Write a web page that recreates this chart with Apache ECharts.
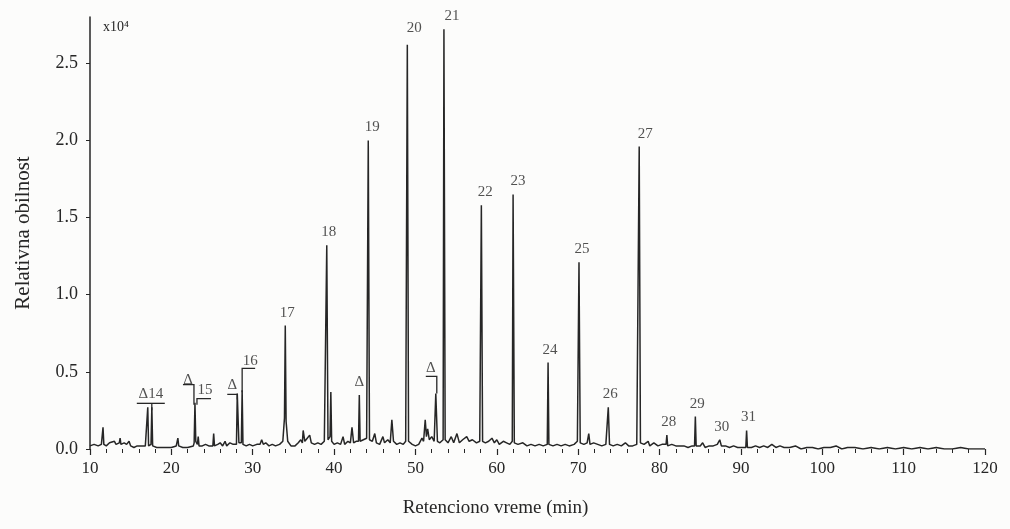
<!DOCTYPE html>
<html>
<head>
<meta charset="utf-8">
<script src="https://cdn.jsdelivr.net/npm/echarts/dist/echarts.min.js"></script>
<style>
html,body{margin:0;padding:0;background:#fcfcfb;}
#chart{width:1010px;height:529px;}
</style>
</head>
<body>
<div id="chart"></div>
<script>
// Chromatogram trace: retention time (min) and relative abundance (x10^4)
const traceTime = [
  10.0,10.5,11.0,11.4,11.5,11.6,11.7,12.0,12.4,12.6,13.0,13.2,13.6,13.7,13.8,14.2,14.5,14.8,15.0,15.4,
  15.8,16.3,16.8,17.0,17.1,17.2,17.5,17.6,17.7,18.2,19.0,20.0,20.6,20.8,20.9,21.4,22.0,22.7,22.8,22.9,
  23.0,23.2,23.3,23.4,23.8,24.2,24.6,25.1,25.2,25.3,25.7,26.0,26.3,26.6,26.8,27.2,27.6,28.0,28.1,28.3,
  28.6,28.7,28.8,29.2,29.6,30.0,30.5,30.9,31.1,31.3,31.6,32.0,32.4,32.8,33.3,33.7,33.9,34.0,34.1,34.3,
  34.7,35.2,35.6,35.9,36.1,36.2,36.4,36.7,37.0,37.2,37.6,38.0,38.4,38.8,39.0,39.1,39.25,39.5,39.6,39.7,
  40.0,40.4,40.8,41.1,41.3,41.7,42.0,42.2,42.4,42.7,43.0,43.1,43.2,43.6,44.0,44.2,44.35,44.7,45.0,45.2,
  45.6,46.0,46.2,46.6,46.9,47.1,47.3,47.7,48.1,48.5,48.8,49.0,49.15,49.6,50.0,50.4,50.8,51.0,51.2,51.35,
  51.5,51.7,52.0,52.3,52.5,52.7,53.0,53.4,53.5,53.65,54.0,54.4,54.7,55.1,55.4,55.8,56.3,56.6,57.0,57.5,
  57.9,58.1,58.25,58.6,59.0,59.4,59.7,60.0,60.3,60.8,61.2,61.6,61.9,62.0,62.15,62.6,63.2,63.7,64.2,64.7,
  65.2,65.7,66.2,66.3,66.4,66.9,67.4,67.9,68.4,68.9,69.5,69.9,70.1,70.25,70.7,71.1,71.3,71.45,71.9,72.4,
  72.9,73.4,73.7,73.85,74.3,74.8,75.3,75.8,76.2,76.7,77.2,77.5,77.65,78.1,78.6,78.8,79.3,79.8,80.3,80.8,
  80.9,81.0,81.5,82.0,82.5,83.0,83.5,84.0,84.3,84.4,84.5,85.0,85.3,85.6,86.1,86.6,87.1,87.4,87.6,88.1,
  88.6,89.1,89.6,90.2,90.6,90.7,90.8,91.3,91.8,92.3,92.8,93.3,93.8,94.3,94.8,95.3,96.0,96.7,97.4,98.1,
  98.8,99.5,100.2,101.0,101.7,102.4,103.1,104.0,105.0,106.0,107.0,108.0,109.0,110.0,111.0,112.0,113.0,114.0,115.0,116.0,
  117.0,118.0,119.0,120.0
];
const traceValue = [
  0.02,0.03,0.02,0.03,0.03,0.14,0.03,0.02,0.04,0.03,0.05,0.03,0.04,0.07,0.03,0.04,0.03,0.05,0.02,0.01,
  0.02,0.02,0.02,0.03,0.27,0.02,0.03,0.27,0.02,0.01,0.01,0.01,0.02,0.07,0.02,0.01,0.01,0.02,0.04,0.30,
  0.05,0.03,0.08,0.02,0.02,0.03,0.02,0.02,0.10,0.02,0.03,0.04,0.02,0.05,0.02,0.04,0.03,0.03,0.36,0.04,
  0.04,0.38,0.03,0.02,0.03,0.02,0.03,0.03,0.06,0.03,0.04,0.02,0.03,0.02,0.03,0.05,0.20,0.80,0.18,0.05,
  0.02,0.02,0.04,0.06,0.04,0.12,0.05,0.07,0.09,0.04,0.03,0.04,0.03,0.05,0.06,1.32,0.06,0.08,0.37,0.05,
  0.03,0.04,0.03,0.08,0.03,0.05,0.04,0.14,0.04,0.05,0.05,0.35,0.05,0.06,0.07,2.00,0.06,0.05,0.10,0.04,
  0.03,0.08,0.04,0.06,0.04,0.19,0.05,0.03,0.04,0.03,0.05,2.62,0.05,0.03,0.02,0.03,0.07,0.05,0.19,0.08,
  0.13,0.06,0.08,0.05,0.36,0.05,0.04,0.06,2.72,0.06,0.04,0.08,0.04,0.10,0.04,0.06,0.08,0.05,0.06,0.04,
  0.05,1.58,0.05,0.04,0.05,0.07,0.04,0.06,0.03,0.05,0.04,0.03,0.05,1.65,0.04,0.03,0.04,0.02,0.03,0.02,
  0.03,0.02,0.03,0.56,0.03,0.02,0.03,0.02,0.03,0.02,0.03,0.05,1.21,0.04,0.03,0.04,0.10,0.03,0.04,0.03,
  0.02,0.03,0.27,0.03,0.02,0.03,0.02,0.04,0.02,0.02,0.03,1.96,0.04,0.03,0.05,0.02,0.04,0.02,0.03,0.03,
  0.09,0.02,0.03,0.02,0.02,0.02,0.01,0.02,0.02,0.21,0.02,0.02,0.04,0.01,0.02,0.02,0.03,0.06,0.02,0.02,
  0.01,0.02,0.01,0.01,0.01,0.12,0.01,0.01,0.02,0.01,0.02,0.01,0.03,0.01,0.02,0.01,0.01,0.02,0.00,0.01,
  0.01,0.00,0.01,0.01,0.02,0.00,0.01,0.01,0.00,0.01,0.00,0.01,0.00,0.01,0.00,0.01,0.00,0.01,0.00,0.00,
  0.01,0.00,0.00,0.00
];

// Numbered peaks: label, retention time, apex height
const peakNames = ['Δ14','15','16','17','18','19','20','21','22','23','24','25','26','27','28','29','30','31'];
const peakTimes = [17.35,22.9,28.7,34.0,39.1,44.2,49.0,53.5,58.1,62.0,66.3,70.1,73.7,77.5,80.9,84.4,87.4,90.7];
const peakTops  = [0.27,0.30,0.38,0.80,1.32,2.00,2.62,2.72,1.58,1.65,0.56,1.21,0.27,1.96,0.09,0.21,0.06,0.12];

// Peaks marked with a delta
const deltaTimes = [22.9,28.1,43.1,52.5];
const deltaTops  = [0.30,0.36,0.35,0.36];

// Tick steps
const yTickStep = 0.5;
const xTickStep = 10;

// label offsets (style only, px)
const peakLabelOffset = {
  'Δ14':[1,0], '15':[10,0], '16':[8,-16], '19':[4,0], '20':[7,-4], '21':[8,0],
  '22':[4,0], '23':[5,0], '25':[3,0], '27':[6,0]
};
const deltaLabelOffset = [[-7,-10],[-5,5],[0,0],[-5,-12]];

const serif = '"Liberation Serif", "DejaVu Serif", serif';
const ink = '#262626';

const chart = echarts.init(document.getElementById('chart'), null, {renderer:'canvas'});

const traceData = traceTime.map((t,i)=>[t, traceValue[i]]);
const peakLabelData = peakNames.map((n,i)=>({
  value:[peakTimes[i], peakTops[i], n],
  label:{offset: peakLabelOffset[n] || [2,0]}
}));
const deltaData = deltaTimes.map((t,i)=>({
  value:[t, deltaTops[i], 'Δ'],
  label:{offset: deltaLabelOffset[i]}
}));

chart.setOption({
  backgroundColor:'#fcfcfb',
  animation:false,
  grid:{left:90, right:25, top:17, bottom:80},
  xAxis:{
    type:'value', min:10, max:120, interval:xTickStep, offset:5,
    axisLine:{show:false},
    axisTick:{show:true, length:6, lineStyle:{color:ink, width:1.2}},
    minorTick:{show:true, splitNumber:5, length:4, lineStyle:{color:ink, width:1}},
    splitLine:{show:false},
    axisLabel:{fontFamily:serif, fontSize:17, color:ink, margin:6},
    name:'Retenciono vreme (min)', nameLocation:'middle', nameGap:45,
    nameTextStyle:{fontFamily:serif, fontSize:19, color:ink, padding:[0,84,0,0]}
  },
  yAxis:{
    type:'value', min:0, max:2.8, interval:yTickStep,
    axisLine:{show:true, lineStyle:{color:ink, width:1.5}},
    axisTick:{show:true, length:4, lineStyle:{color:ink}},
    splitLine:{show:false},
    axisLabel:{fontFamily:serif, fontSize:18, color:ink, margin:12, showMaxLabel:false,
      formatter:v=>v.toFixed(1)},
    name:'Relativna obilnost', nameLocation:'middle', nameGap:56,
    nameTextStyle:{fontFamily:serif, fontSize:21, color:ink}
  },
  series:[
    {
      type:'line', data:traceData, showSymbol:false, symbol:'none',
      lineStyle:{color:ink, width:1.5}, silent:true, z:2
    },
    {
      type:'scatter', data:peakLabelData, symbolSize:1,
      itemStyle:{color:'rgba(0,0,0,0)'}, silent:true, z:3,
      label:{show:true, position:'top', distance:5, formatter:p=>p.value[2],
        fontFamily:serif, fontSize:15, color:ink}
    },
    {
      type:'scatter', data:deltaData, symbolSize:1,
      itemStyle:{color:'rgba(0,0,0,0)'}, silent:true, z:3,
      label:{show:true, position:'top', distance:5, formatter:p=>p.value[2],
        fontFamily:serif, fontSize:15, color:ink}
    }
  ]
});

// Bracket annotations tied to peak apexes (computed via the chart's own scales)
const P = (t,v)=>chart.convertToPixel({gridIndex:0},[t,v]);
const a14 = P(peakTimes[0], peakTops[0]);
const a15 = P(peakTimes[1], peakTops[1]);
const a16 = P(peakTimes[2], peakTops[2]);
const d16 = P(deltaTimes[1], deltaTops[1]);
const d52 = P(deltaTimes[3], deltaTops[3]);
const stroke = {stroke:ink, lineWidth:1.3, fill:null};
const poly = pts=>({type:'polyline', shape:{points:pts}, style:stroke, silent:true, z:10});
chart.setOption({
  graphic:[
    {type:'text', left:103, top:20, silent:true,
      style:{text:'x10⁴', font:'14px "Liberation Serif", serif', fill:ink}},
    poly([[a14[0]-13,a14[1]-4],[a14[0]+15,a14[1]-4]]),
    poly([[a14[0]+2,a14[1]-4],[a14[0]+2,a14[1]+3]]),
    poly([[a15[0]-12,a15[1]-18],[a15[0]-1,a15[1]-18],[a15[0]-1,a15[1]+2]]),
    poly([[a15[0]+16,a15[1]-4],[a15[0]+2,a15[1]-4],[a15[0]+2,a15[1]+2]]),
    poly([[d16[0]-10,d16[1]+1],[d16[0],d16[1]+1],[d16[0],d16[1]+6]]),
    poly([[a16[0],a16[1]+2],[a16[0],a16[1]-22],[a16[0]+13,a16[1]-22]]),
    poly([[d52[0]-10,d52[1]-17],[d52[0]+1,d52[1]-17],[d52[0]+1,d52[1]]])
  ]
});
</script>
</body>
</html>
